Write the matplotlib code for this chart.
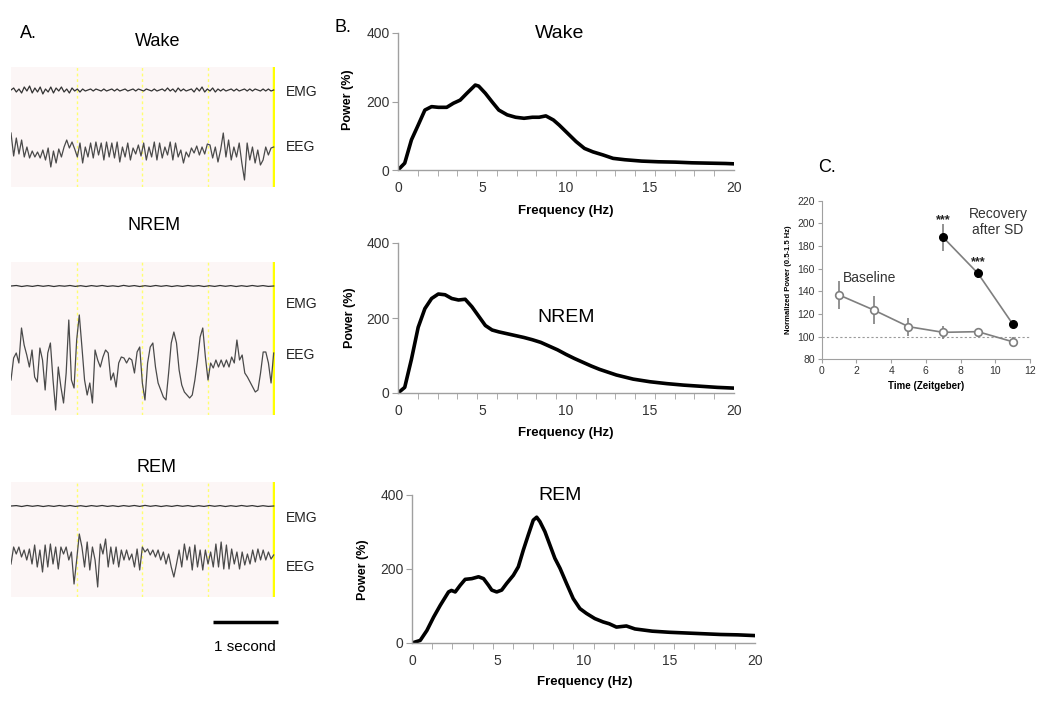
import matplotlib
matplotlib.use('Agg')
import matplotlib.pyplot as plt
import numpy as np

plt.rcParams['font.family'] = ['Liberation Sans', 'DejaVu Sans']

W, H = 1050, 707

# ---------------- panel A : raw traces (amplitude, a.u.) ----------------
wake_eeg = [17, -6, 12, -4, 10, -7, 3, -8, -1, -7, -2, -8, 0, -10, 2, -17, -1, -13, 1, -7, 3, 10, 2, 8, 1,
            -7, 7, -13, 3, -7, 7, -8, 8, -5, 7, -10, 8, -7, 7, -8, 8, -12, 3, -7, 7, -10, 2, -4, 5, -6,
            7, -10, 3, -7, 8, -10, 7, -8, 3, -5, 8, -10, 7, -7, 0, -13, -2, -7, 2, -3, 4, -5, 3, -4, 6,
            5, -8, 3, -12, 0, 17, -7, 10, -10, 3, -7, 7, -13, -30, 7, -10, 3, -13, 0, -15, -10, 3, -5, 2, 3]
wake_emg = [0, 2, -2, 1, -3, 3, -1, 4, -3, 2, -2, 3, -4, 1, -2, 3, -3, 2, -1, 3, -2, 1, -3, 2, -1,
            1, -2, 1, -1, 0, 1, -1, 1, 0, -1, 1, -1, 0, 1, -1, 1, -1, 0, 1, -1, 0, 1, -1, 1, 0,
            -1, 1, 0, -1, 1, -1, 0, 1, -1, 2, -1, 1, -2, 2, -1, 1, -1, 0, 1, -2, 2, -1, 3, -2, 1,
            -1, 2, -2, 1, -1, 1, -1, 0, 1, -1, 1, -1, 0, 1, -1, 1, -1, 1, 0, -1, 1, -1, 1, -1, 0]

nrem_eeg = [-20, 2, 7, -3, 32, 15, 5, -7, 10, -17, -22, 12, 0, -30, 7, 17, -20, -50, -7, -27,
            -43, -13, 40, -20, -28, 20, 45, 13, -20, -35, -23, -43, 10, 0, -7, 3, 10, 7, -20, -13,
            -27, -3, 3, 2, -3, 2, 0, -13, 8, 13, -23, -40, -3, 13, 17, -7, -23, -30, -37, -40,
            -13, 17, 28, 17, -10, -25, -32, -35, -38, -35, -20, 0, 23, 32, 3, -20, -3, -8, 0, -7,
            0, -7, 0, -7, 3, -3, 20, 0, 5, -13, -17, -22, -27, -32, -30, -13, 8, 8, -3, -23, 7]
nrem_emg = [0, 0.5, -0.5, 0.3, -0.4, 0.5, -0.3, 0.4, -0.5, 0.3, -0.2, 0.5, -0.4, 0.3, -0.5, 0.4, -0.3,
            0.5, -0.4, 0.2, -0.5, 0.6, -0.3, 0.4, -0.5, 0.3, -0.4, 0.5, -0.3, 0.4, -0.5, 0.3, -0.4,
            0.5, -0.2, 0.4, -0.5, 0.3, -0.4, 0.5, -0.3, 0.4, -0.5, 0.3, -0.4, 0.5, -0.3, 0.4, -0.4, 0]

rem_eeg = [-7, 10, 3, 10, 0, 7, -3, 8, -7, 12, -10, 7, -15, 12, -10, 13, -7, 10, -12, 10,
           3, 10, -3, 5, -27, -3, 23, 10, -10, 15, -13, 10, -3, -30, 13, 3, 18, -10, 10, -7,
           10, -10, 7, -3, 7, -3, 3, -10, 8, -13, 10, 5, 8, 2, 7, 0, 7, -3, 5, -7,
           3, -10, -20, -7, 7, -10, 13, -3, 10, -13, 12, -10, 7, -13, 7, -7, 5, -10, 13, -10,
           15, -12, 12, -12, 8, -7, 5, -12, 5, -8, 3, -7, 7, -5, 8, -3, 7, -3, 5, -2, 2]
rem_emg = [0, 0.4, -0.5, 0.5, -0.3, 0.4, -0.5, 0.3, -0.4, 0.5, -0.3, 0.5, -0.4, 0.3, -0.5, 0.4, -0.3,
           0.5, -0.4, 0.3, -0.5, 0.4, -0.3, 0.5, -0.4, 0.6, -0.3, 0.4, -0.5, 0.3, -0.4, 0.5, -0.3,
           0.4, -0.5, 0.3, -0.4, 0.5, -0.3, 0.4, -0.5, 0.3, -0.4, 0.5, -0.3, 0.4, -0.5, 0.3, -0.4, 0]

# ---------------- panel B : power spectra ----------------
wake_freq = [0, 0.4, 0.8, 1.2, 1.6, 2.0, 2.4, 2.9, 3.3, 3.7, 4.1, 4.6, 4.8, 5.2, 5.6, 6.0, 6.5, 7.0, 7.5,
             8.0, 8.4, 8.8, 9.25, 9.6, 10.1, 10.6, 11.1, 11.6, 12.2, 12.8, 13.5, 14.5, 15.5, 16.5, 17.5,
             18.5, 19.5, 20]
wake_power = [0, 20, 88, 131, 175, 185, 183, 183, 195, 204, 224, 248, 245, 224, 199, 175, 161, 154, 151,
              154, 154, 158, 146, 131, 107, 83, 63, 53, 44, 34, 30, 26, 24, 23, 21, 20, 19, 18]

nrem_freq = [0, 0.4, 0.8, 1.2, 1.6, 2.0, 2.4, 2.8, 3.2, 3.6, 4.0, 4.4, 4.8, 5.2, 5.6, 6.0, 6.5, 7.0, 7.5,
             8.0, 8.5, 9.0, 9.5, 10.0, 10.5, 11.0, 11.5, 12.0, 13.0, 14.0, 15.0, 16.0, 17.0, 18.0, 19.0, 20.0]
nrem_power = [0, 15, 90, 175, 225, 252, 264, 262, 252, 248, 250, 230, 205, 180, 168, 163, 158, 153, 148,
              142, 135, 125, 115, 103, 92, 82, 72, 63, 48, 37, 30, 25, 21, 18, 15, 13]

rem_freq = [0, 0.48, 0.87, 1.26, 1.65, 2.13, 2.3, 2.52, 2.81, 3.1, 3.49, 3.88, 4.17, 4.46, 4.65, 4.94,
            5.23, 5.52, 5.91, 6.2, 6.49, 6.78, 7.07, 7.27, 7.46, 7.75, 8.04, 8.33, 8.63, 9.01, 9.4,
            9.79, 10.17, 10.66, 11.14, 11.5, 11.92, 12.5, 13, 14, 15, 16, 17, 18, 19, 20]
rem_power = [0, 7, 34, 70, 102, 138, 142, 138, 156, 172, 174, 179, 174, 156, 143, 138,
             143, 161, 183, 206, 251, 292, 332, 340, 328, 301, 265, 229, 202, 161, 120,
             93, 80, 66, 57, 52, 43, 46, 38, 32, 29, 27, 25, 23, 22, 20]

# ---------------- panel C : normalized delta power ----------------
zt_base = [1, 3, 5, 7, 9, 11]
base_power = [136.8, 123.5, 108.8, 103.8, 104.4, 95.5]
base_err = [12.6, 12, 8, 5.5, 3, 4]
zt_rec = [7, 9, 11]
rec_power = [187.6, 155.9, 111.2]
rec_err = [12, 4.4, 1.5]

fig = plt.figure(figsize=(W / 100, H / 100), dpi=100)


def px_axes(left, top, right, bottom):
    return fig.add_axes([left / W, 1 - bottom / H, (right - left) / W, (bottom - top) / H])


def px_text(x, y, s, **kw):
    fig.text(x / W, 1 - y / H, s, **kw)


# ---- A ----
px_text(20, 33, 'A.', fontsize=13, ha='left', va='center')
trace_boxes = [
    # title, title xy, box (top, bottom), emg baseline, eeg baseline, label ys, data
    ('Wake', (158, 42), (67, 187), 23, 83, (92, 147), wake_emg, wake_eeg),
    ('NREM', (154, 225), (262, 415), 24, 98, (304, 355), nrem_emg, nrem_eeg),
    ('REM', (156, 468), (482, 597), 24, 75, (518, 567), rem_emg, rem_eeg),
]
rem_box_ax = None
for title, (tx, ty), (top, bot), emg_base, eeg_base, (ly1, ly2), emg, eeg in trace_boxes:
    px_text(tx, ty, title, fontsize=13, ha='center', va='center')
    ax = px_axes(11, top, 275, bot)
    ax.set_facecolor('#fcf6f6')
    for s in ax.spines.values():
        s.set_visible(False)
    ax.set_xticks([])
    ax.set_yticks([])
    ax.set_xlim(0, 4.02)
    ax.set_ylim(-(bot - top), 0)
    for sec in [1, 2, 3]:
        ax.axvline(sec, color='#ffff70', lw=1.0, ls=(0, (2, 2)))
    ax.axvline(4, color='#ffff00', lw=2.5)
    ax.plot(np.linspace(0, 4, len(emg)), -emg_base + np.array(emg), color='#333333', lw=0.9)
    ax.plot(np.linspace(0, 4, len(eeg)), -eeg_base + np.array(eeg), color='#4a4a4a', lw=0.9)
    px_text(286, ly1, 'EMG', fontsize=10, ha='left', va='center', color='#222222')
    px_text(286, ly2, 'EEG', fontsize=10, ha='left', va='center', color='#222222')
    rem_box_ax = ax

# 1 second scale bar under the REM traces
rem_box_ax.plot([3.07, 4.07], [-0.22, -0.22], color='black', lw=2.5, clip_on=False,
                transform=rem_box_ax.get_xaxis_transform(), solid_capstyle='butt')
px_text(245, 647, '1 second', fontsize=11, ha='center', va='center')

# ---- B ----
px_text(335, 28, 'B.', fontsize=13, ha='left', va='center')
spectra = [
    ('Wake', wake_freq, wake_power, (398, 33, 734, 170), (560, 33), (348, 100), (566, 211)),
    ('NREM', nrem_freq, nrem_power, (398, 243, 734, 393), (566, 318), (350, 318), (566, 433)),
    ('REM', rem_freq, rem_power, (412, 495, 755, 643), (560, 495), (363, 570), (585, 682)),
]
for title, f, p, (l, t, r, b), (tx, ty), (yx, yy), (xx, xy) in spectra:
    ax = px_axes(l, t, r, b)
    ax.plot(f, p, color='black', lw=2.6, solid_joinstyle='round')
    ax.set_xlim(0, 20)
    ax.set_ylim(0, 400)
    for side in ['top', 'right']:
        ax.spines[side].set_visible(False)
    for side in ['left', 'bottom']:
        ax.spines[side].set_color('#a0a0a0')
        ax.spines[side].set_linewidth(1.0)
    ax.set_yticks([0, 200, 400])
    ax.set_xticks([0, 5, 10, 15, 20])
    ax.set_xticks(np.linspace(0, 20, 18), minor=True)
    ax.tick_params(axis='y', direction='out', length=4, color='#a0a0a0', labelsize=10,
                   labelcolor='#333333', pad=2)
    ax.tick_params(axis='x', which='major', length=0, labelsize=10, labelcolor='#333333', pad=8)
    ax.tick_params(axis='x', which='minor', direction='out', length=4, color='#a0a0a0')
    ax.set_facecolor('none')
    px_text(tx, ty, title, fontsize=14, ha='center', va='center')
    px_text(yx, yy, 'Power (%)', fontsize=9, fontweight='bold', rotation=90, ha='center', va='center')
    px_text(xx, xy, 'Frequency (Hz)', fontsize=9.5, fontweight='bold', ha='center', va='center')

# ---- C ----
px_text(818, 168, 'C.', fontsize=13, ha='left', va='center')
axc = px_axes(821.7, 200.7, 1030, 359.3)
gray = '#7f7f7f'
axc.axhline(100, color='#9a9a9a', lw=0.8, ls=(0, (2, 2)), zorder=1)
axc.errorbar(zt_base, base_power, yerr=base_err, fmt='-o', color=gray, mfc='white', mec=gray,
             ms=5.5, mew=1.2, lw=1.2, elinewidth=1.2, capsize=0, zorder=3)
axc.errorbar(zt_rec, rec_power, yerr=rec_err, fmt='-o', color=gray, mfc='black', mec='black',
             ms=5.5, mew=1.0, lw=1.2, elinewidth=1.2, capsize=0, zorder=3)
axc.set_xlim(0, 12)
axc.set_ylim(80, 220)
axc.set_xticks(range(0, 13, 2))
axc.set_yticks(range(80, 221, 20))
for side in ['top', 'right']:
    axc.spines[side].set_visible(False)
for side in ['left', 'bottom']:
    axc.spines[side].set_color('#a0a0a0')
axc.tick_params(direction='out', length=3, color='#a0a0a0', labelsize=7.5, labelcolor='#333333', pad=2)
axc.set_facecolor('none')
axc.text(7, 203, '***', fontsize=9, fontweight='bold', ha='center', va='center', color='#222222')
axc.text(9, 166, '***', fontsize=9, fontweight='bold', ha='center', va='center', color='#222222')
axc.text(1.2, 152, 'Baseline', fontsize=10, ha='left', va='center', color='#333333')
axc.text(10.15, 201, 'Recovery\nafter SD', fontsize=10, ha='center', va='center', color='#333333',
         linespacing=1.15)
px_text(789, 280, 'Normalized Power (0.5-1.5 Hz)', fontsize=5.5, fontweight='bold', rotation=90,
        ha='center', va='center')
px_text(926, 386, 'Time (Zeitgeber)', fontsize=7, fontweight='bold', ha='center', va='center')

fig.savefig('out.png', dpi=100)
